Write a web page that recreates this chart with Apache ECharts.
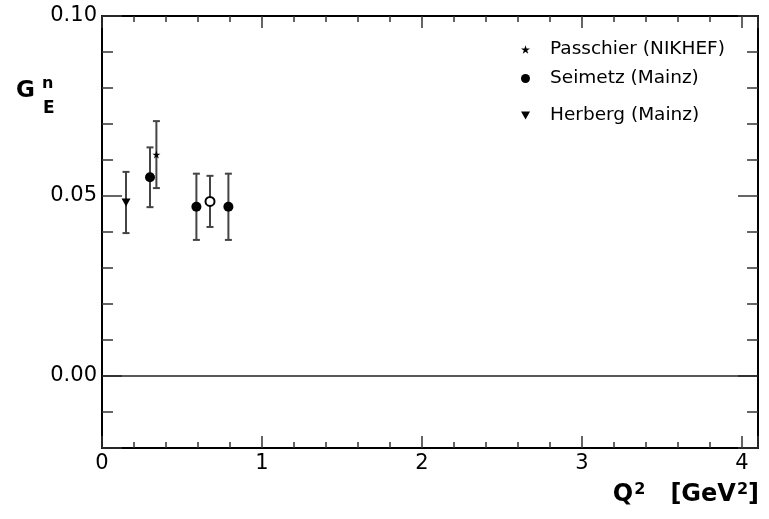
<!DOCTYPE html>
<html>
<head>
<meta charset="utf-8">
<script src="https://cdn.jsdelivr.net/npm/echarts@6/dist/echarts.min.js"></script>
<style>
  html, body { margin: 0; padding: 0; background: #ffffff; }
  #chart { width: 769px; height: 519px; }
</style>
</head>
<body>
<div id="chart"></div>
<script>
// Neutron electric form factor G_E^n against Q^2 (GeV^2)
const passchierQ2 = [0.34];
const passchierGEn = [0.0615];
const passchierErr = [0.0093];

const seimetzQ2 = [0.30, 0.59, 0.79];
const seimetzGEn = [0.0552, 0.0470, 0.0470];
const seimetzErr = [0.0083, 0.0092, 0.0092];

const herbergQ2 = [0.15];
const herbergGEn = [0.0482];
const herbergErr = [0.0085];

const openQ2 = [0.675];
const openGEn = [0.0485];
const openErr = [0.0071];

const seriesNames = ['Passchier (NIKHEF)', 'Seimetz (Mainz)', 'Herberg (Mainz)'];

const xRange = [0, 4.1];
const yRange = [-0.02, 0.10];

const FONT = 'DejaVu Sans';
const STAR = 'path://M50,0 L61,35 L98,35 L68,57 L79,91 L50,70 L21,91 L32,57 L2,35 L39,35 Z';
const TRI_DOWN = 'path://M0,0 L10,0 L5,9 Z';

function points(xs, ys) { return xs.map((x, i) => [x, ys[i]]); }
function bars(xs, ys, es) { return xs.map((x, i) => [x, ys[i], es[i]]); }

const errorData = [].concat(
  bars(herbergQ2, herbergGEn, herbergErr),
  bars(seimetzQ2, seimetzGEn, seimetzErr),
  bars(passchierQ2, passchierGEn, passchierErr),
  bars(openQ2, openGEn, openErr)
);

const tickColor = '#333';
function xAxisDef(pos, showLabels) {
  return {
    type: 'value', position: pos, min: xRange[0], max: xRange[1],
    minInterval: 1, maxInterval: 1,
    axisLine: { show: true, onZero: false, lineStyle: { color: '#000', width: 2 } },
    axisTick: { show: true, inside: true, length: 12, lineStyle: { color: tickColor, width: 1.5 } },
    minorTick: { show: true, splitNumber: 5, length: 6, lineStyle: { color: tickColor, width: 1.5 } },
    axisLabel: { show: showLabels, showMaxLabel: false, margin: 5, fontFamily: FONT, fontSize: 21, color: '#000' },
    splitLine: { show: false }, minorSplitLine: { show: false }
  };
}
function yAxisDef(pos, showLabels) {
  return {
    type: 'value', position: pos, min: yRange[0], max: yRange[1],
    minInterval: 0.05, maxInterval: 0.05,
    axisLine: { show: true, onZero: false, lineStyle: { color: '#000', width: 2 } },
    axisTick: { show: true, inside: true, length: 20, lineStyle: { color: tickColor, width: 1.5 } },
    minorTick: { show: true, splitNumber: 5, length: 11, lineStyle: { color: tickColor, width: 1.5 } },
    axisLabel: {
      show: showLabels, showMinLabel: false, margin: 5, fontFamily: FONT, fontSize: 21, color: '#000',
      padding: [3, 0, 0, 0],
      formatter: v => v.toFixed(2)
    },
    splitLine: { show: false }, minorSplitLine: { show: false }
  };
}

function legendFor(name, top, size) {
  return {
    data: [name], orient: 'vertical', left: 516, top: top,
    itemWidth: size, itemHeight: size, selectedMode: false,
    textStyle: { fontFamily: FONT, fontSize: 18.5, color: '#000', padding: [0, 0, 0, 15] }
  };
}

const chart = echarts.init(document.getElementById('chart'), null, { renderer: 'canvas' });
chart.setOption({
  backgroundColor: '#ffffff',
  animation: false,
  grid: { left: 102, right: 11, top: 16, bottom: 71, containLabel: false, outerBoundsMode: 'none' },
  xAxis: [xAxisDef('bottom', true), xAxisDef('top', false)],
  yAxis: [yAxisDef('left', true), yAxisDef('right', false)],
  legend: [
    legendFor(seriesNames[0], 35, 9),
    legendFor(seriesNames[1], 64, 9),
    legendFor(seriesNames[2], 101, 9)
  ],
  title: [{
    text: 'Q{s|2}{g|   }[GeV{s|2}]',
    right: 10, top: 482, padding: 0,
    textStyle: {
      fontFamily: FONT, fontWeight: 'bold', fontSize: 24, color: '#000',
      rich: {
        s: { fontFamily: FONT, fontWeight: 'bold', fontSize: 16, color: '#000', verticalAlign: 'top', padding: [0, 0, 10, 1] },
        g: { fontFamily: FONT, fontWeight: 'bold', fontSize: 24 }
      }
    }
  }],
  graphic: [
    { type: 'text', left: 16, top: 80, style: { text: 'G', font: 'bold 23px "DejaVu Sans"', fill: '#000' } },
    { type: 'text', left: 42, top: 76, style: { text: 'n', font: 'bold 16px "DejaVu Sans"', fill: '#000' } },
    { type: 'text', left: 43, top: 100, style: { text: 'E', font: 'bold 17px "DejaVu Sans"', fill: '#000' } }
  ],
  series: [
    {
      name: 'errors', type: 'custom', data: errorData, z: 2,
      encode: { x: 0, y: 1 },
      renderItem: function (params, api) {
        const x = api.value(0), y = api.value(1), e = api.value(2);
        const hi = api.coord([x, y + e]);
        const lo = api.coord([x, y - e]);
        const cap = 3.5;
        const st = { stroke: '#444', lineWidth: 2 };
        return {
          type: 'group', children: [
            { type: 'line', shape: { x1: hi[0], y1: hi[1], x2: lo[0], y2: lo[1] }, style: st },
            { type: 'line', shape: { x1: hi[0] - cap, y1: hi[1], x2: hi[0] + cap, y2: hi[1] }, style: st },
            { type: 'line', shape: { x1: lo[0] - cap, y1: lo[1], x2: lo[0] + cap, y2: lo[1] }, style: st }
          ]
        };
      },
      markLine: {
        silent: true, symbol: 'none', animation: false,
        label: { show: false },
        lineStyle: { color: '#222', width: 1.5, type: 'solid' },
        data: [{ yAxis: 0 }]
      }
    },
    {
      name: seriesNames[0], type: 'scatter', z: 3,
      data: points(passchierQ2, passchierGEn),
      symbol: STAR, symbolSize: 8,
      itemStyle: { color: '#000', opacity: 1 }
    },
    {
      name: seriesNames[1], type: 'scatter', z: 3,
      data: points(seimetzQ2, seimetzGEn),
      symbol: 'circle', symbolSize: 10,
      itemStyle: { color: '#000', opacity: 1 }
    },
    {
      name: seriesNames[2], type: 'scatter', z: 3,
      data: points(herbergQ2, herbergGEn),
      symbol: TRI_DOWN, symbolSize: [9, 8],
      itemStyle: { color: '#000', opacity: 1 }
    },
    {
      name: 'Mainz (open)', type: 'scatter', z: 3,
      data: points(openQ2, openGEn),
      symbol: 'circle', symbolSize: 9,
      itemStyle: { color: '#fff', borderColor: '#000', borderWidth: 2, opacity: 1 }
    }
  ]
});
</script>
</body>
</html>
